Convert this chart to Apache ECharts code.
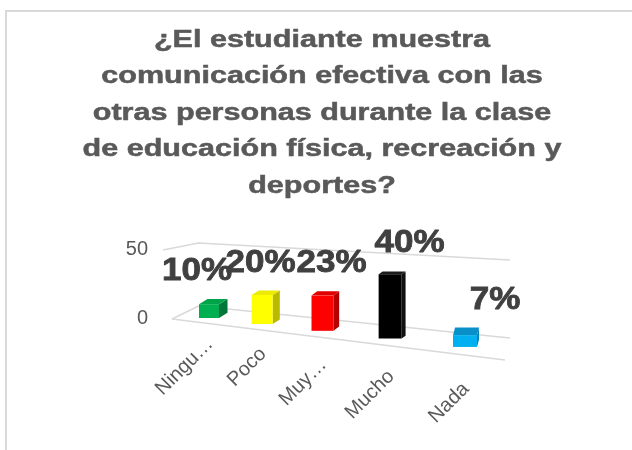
<!DOCTYPE html>
<html>
<head>
<meta charset="utf-8">
<script src="https://cdn.jsdelivr.net/npm/echarts@6/dist/echarts.min.js"></script>
<style>
html, body { margin: 0; padding: 0; background: #fff; }
#chart { width: 632px; height: 450px; }
</style>
</head>
<body>
<div id="chart"></div>
<script>
const titleText = '¿El estudiante muestra\ncomunicación efectiva con las\notras personas durante la clase\nde educación física, recreación y\ndeportes?'
const categories = ['Ningu…', 'Poco', 'Muy…', 'Mucho', 'Nada']
const values = [10, 20, 23, 40, 7]
const percentLabels = ['10%', '20%', '23%', '40%', '7%']
const yTicks = [0, 50]

const faceColors = [
  { front: '#00b050', side: '#00773a', top: '#00a34a' },
  { front: '#ffff00', side: '#baba00', top: '#ebeb00' },
  { front: '#ff0000', side: '#b50000', top: '#e00000' },
  { front: '#000000', side: '#111111', top: '#1c1c1c' },
  { front: '#00b0f0', side: '#0083b5', top: '#0a90c9' }
]
const gridColor = '#d9d9d9'
const textGray = '#595959'

const chart = echarts.init(document.getElementById('chart'))

// fake Excel perspective: positions come from api.coord and are then bent
// along the tilted floor, bars get bigger towards the right
function renderBar(params, api) {
  const idx = api.value(0)
  const rect = params.coordSys
  const c0 = api.coord([idx, 0])
  const c1 = api.coord([idx, api.value(1)])
  const step = api.size([1, 0])[0]
  const t = (c0[0] - rect.x - step / 2) / (rect.width - step)
  const xc = c0[0] - 58 * t * (1 - t)
  const yb = c0[1] + 0.113 * (xc - rect.x - step / 2)
  const h = (c0[1] - c1[1]) * (1 + 0.22 * t)
  const yt = yb - h
  const w = 20 + 4 * t
  const xl = xc - w / 2
  const xr = xc + w / 2
  const dx = 0.025 * (rect.x + 383 - xr)
  const dy = 0.08 * (yt - rect.y + 9)
  const col = faceColors[idx]

  return {
    type: 'group',
    children: [
      {
        type: 'polygon',
        shape: { points: [[xr, yt], [xr + dx, yt - dy], [xr + dx, yb - dy], [xr, yb]] },
        style: { fill: col.side }
      },
      {
        type: 'polygon',
        shape: { points: [[xl, yt], [xr, yt], [xr + dx, yt - dy], [xl + dx, yt - dy]] },
        style: { fill: col.top }
      },
      {
        type: 'rect',
        shape: { x: xl, y: yt, width: w, height: yb - yt },
        style: { fill: col.front }
      },
      {
        type: 'text',
        x: xc - 12 + 42 * t,
        y: yt - dy - 12,
        scaleX: 1.13,
        style: {
          text: percentLabels[idx],
          fill: '#404040',
          stroke: '#404040',
          lineWidth: 0.8,
          fontSize: 31,
          fontWeight: 'bold',
          fontFamily: 'Liberation Sans',
          align: 'center',
          verticalAlign: 'bottom'
        }
      },
      {
        type: 'text',
        x: xc + 1,
        y: yb + 23 + 16 * t,
        rotation: Math.PI / 4,
        style: {
          text: categories[idx],
          fill: textGray,
          fontSize: 20,
          fontFamily: 'Liberation Sans',
          align: 'right',
          verticalAlign: 'middle'
        }
      }
    ]
  }
}

// floor and back wall lines for each tick
function renderWall(params, api) {
  const v = api.value(1)
  const rect = params.coordSys
  const y0 = api.coord([0, 0])[1]
  const d = y0 - api.coord([0, v])[1]
  const frontL = [rect.x - 5 - d * 0.13, y0 + 1 - d]
  const backL = [rect.x + 21.5, y0 - 12 - d * 0.913]
  const backR = [rect.x + 333, y0 + 20 - d * 1.13]
  const lineStyle = { stroke: gridColor, lineWidth: 1.5, fill: 'none' }
  const children = [
    { type: 'polyline', shape: { points: [frontL, backL, backR] }, style: lineStyle }
  ]
  if (v === 0) {
    children.push({
      type: 'line',
      shape: { x1: frontL[0], y1: frontL[1], x2: rect.x + 328, y2: y0 + 42 },
      style: lineStyle
    })
  }
  return { type: 'group', children }
}

chart.setOption({
  animation: false,
  graphic: [
    {
      type: 'rect',
      shape: { x: 6, y: 11, width: 700, height: 500 },
      style: { fill: 'none', stroke: gridColor, lineWidth: 2 }
    },
    {
      // the Excel title is drawn wide, so stretch it a bit
      type: 'text',
      x: 322,
      y: 22,
      scaleX: 1.3,
      style: {
        text: titleText,
        fill: textGray,
        stroke: textGray,
        lineWidth: 0.5,
        fontFamily: 'Liberation Sans',
        fontSize: 23.5,
        fontWeight: 'bold',
        lineHeight: 36.5,
        align: 'center',
        verticalAlign: 'top'
      }
    }
  ],
  grid: { left: 177, width: 320, top: 249, height: 69 },
  xAxis: {
    type: 'category',
    data: categories,
    show: false
  },
  yAxis: {
    type: 'value',
    min: 0,
    max: 50,
    interval: 50,
    axisLine: { show: false },
    axisTick: { show: false },
    splitLine: { show: false },
    axisLabel: {
      color: textGray,
      fontSize: 20,
      fontFamily: 'Liberation Sans',
      margin: 29
    }
  },
  series: [
    {
      type: 'custom',
      renderItem: renderWall,
      data: yTicks.map(v => [0, v]),
      z: 1,
      silent: true
    },
    {
      type: 'custom',
      renderItem: renderBar,
      data: values.map((v, i) => [i, v]),
      z: 2
    }
  ]
})
</script>
</body>
</html>
